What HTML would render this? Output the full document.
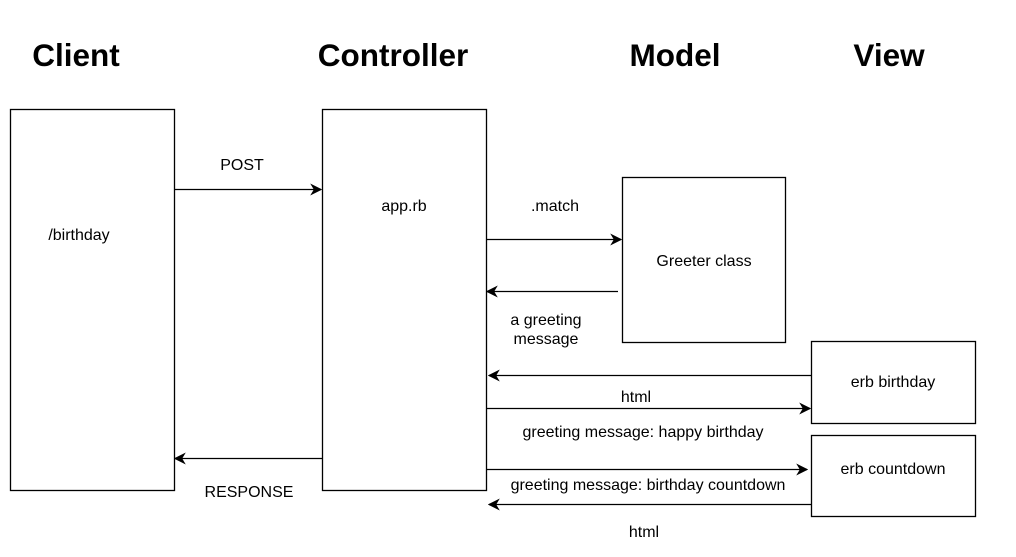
<!DOCTYPE html>
<html><head><style>body{margin:0;background:#fff}</style></head><body>
<svg width="1016" height="552" xmlns="http://www.w3.org/2000/svg" font-family="Liberation Sans, sans-serif">
<defs><marker id="a" viewBox="0 0 10 10" refX="9" refY="5" markerWidth="12" markerHeight="12" markerUnits="userSpaceOnUse" orient="auto"><path d="M0,0 L10,5 L0,10 L3,5 Z" fill="#000"/></marker></defs>
<g font-weight="bold" font-size="31.5" text-anchor="middle">
<text x="76" y="66">Client</text><text x="393" y="66">Controller</text><text x="675" y="66">Model</text><text x="889" y="66">View</text></g>
<g fill="none" stroke="#000" stroke-width="1.3">
<rect x="10.5" y="109.5" width="164" height="381"/>
<rect x="322.5" y="109.5" width="164" height="381"/>
<rect x="622.5" y="177.5" width="163" height="165"/>
<rect x="811.5" y="341.5" width="164" height="82"/>
<rect x="811.5" y="435.5" width="164" height="81"/>
<g marker-end="url(#a)">
<line x1="174" y1="189.5" x2="321" y2="189.5"/>
<line x1="322" y1="458.5" x2="175" y2="458.5"/>
<line x1="486" y1="239.5" x2="621" y2="239.5"/>
<line x1="618" y1="291.5" x2="487" y2="291.5"/>
<line x1="811" y1="375.5" x2="489" y2="375.5"/>
<line x1="486" y1="408.5" x2="810" y2="408.5"/>
<line x1="486" y1="469.5" x2="807" y2="469.5"/>
<line x1="811" y1="504.5" x2="489" y2="504.5"/>
</g></g>
<g font-size="16" text-anchor="middle">
<text x="242" y="170">POST</text><text x="249" y="497">RESPONSE</text>
<text x="79" y="240">/birthday</text><text x="404" y="211">app.rb</text>
<text x="555" y="211">.match</text><text x="704" y="266">Greeter class</text>
<text x="546" y="325">a greeting</text><text x="546" y="344">message</text>
<text x="893" y="387">erb birthday</text><text x="893" y="474">erb countdown</text>
<text x="636" y="402">html</text>
<text x="643" y="437">greeting message: happy birthday</text>
<text x="648" y="490">greeting message: birthday countdown</text>
<text x="644" y="537">html</text>
</g>
</svg>
</body></html>
